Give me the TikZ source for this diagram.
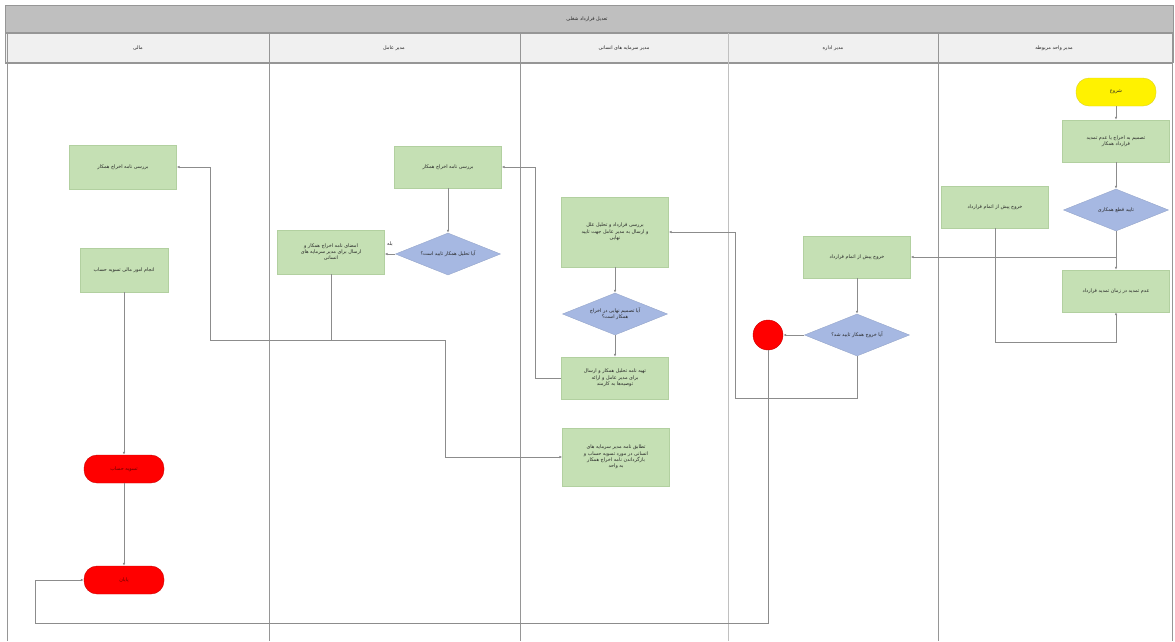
\documentclass[tikz,border=0pt]{standalone}
\usepackage{fontspec}
\usetikzlibrary{shapes.geometric,arrows.meta}
\TeXXeTstate=1
\newfontfamily\arabicfont[Script=Arabic]{DejaVu Sans}
\definecolor{boxgreen}{RGB}{197,224,180}
\definecolor{boxedge}{RGB}{178,208,160}
\definecolor{diablue}{RGB}{166,184,226}
\definecolor{laneline}{RGB}{150,150,150}
\definecolor{linkgray}{RGB}{140,140,140}
\definecolor{titlegray}{RGB}{191,191,191}
\definecolor{headgray}{RGB}{240,240,240}
\tikzset{
  txt/.style={font=\arabicfont\fontsize{4.9}{6.4}\selectfont, align=center, text=black!85},
  proc/.style={txt, draw=boxedge, fill=boxgreen, minimum width=107pt, minimum height=42pt, inner sep=1pt},
  dia/.style={diamond, draw=diablue!90!black, fill=diablue, minimum width=105pt, minimum height=42pt, inner sep=0pt, aspect=2.5},
  term/.style={txt, rounded corners=13pt, minimum width=80pt, minimum height=28pt, inner sep=0pt},
  arr/.style={draw=linkgray, line width=0.6pt, -{Latex[length=3pt,width=2.6pt]}},
  lane/.style={draw=laneline, line width=0.9pt},
  headtxt/.style={font=\arabicfont\fontsize{4.9}{6}\selectfont, text=black!85}
}
\begin{document}
\begin{tikzpicture}[x=1pt, y=-1pt]
\useasboundingbox (0,0) rectangle (1175,641);
\fill[white] (0,0) rectangle (1175,641);

% pool title and lane headers
\fill[titlegray] (5,5) rectangle (1173,32);
\draw[laneline, line width=0.6pt] (5,5) rectangle (1173,32);
\fill[headgray] (5,33) rectangle (1173,62);
\draw[laneline, line width=0.6pt] (5,33) rectangle (1173,62);
\draw[laneline, line width=1.2pt] (5,63) -- (1173,63);
\node[headtxt] (title) at (587,19) {\beginR تعدیل قرارداد شغلی\endR};
\node[headtxt] (h1) at (138,48) {\beginR مالی\endR};
\node[headtxt] (h2) at (394,48) {\beginR مدیر عامل\endR};
\node[headtxt] (h3) at (624,48) {\beginR مدیر سرمایه های انسانی\endR};
\node[headtxt] (h4) at (833,48) {\beginR مدیر اداره\endR};
\node[headtxt] (h5) at (1054,48) {\beginR مدیر واحد مربوطه\endR};

% lane separators
\draw[lane] (7,33) -- (7,641);
\draw[lane] (269,33) -- (269,641);
\draw[lane] (520,33) -- (520,641);
\draw[laneline!60, line width=0.8pt] (728,33) -- (728,641);
\draw[lane] (938,33) -- (938,641);
\draw[lane] (1172,33) -- (1172,641);

% unit manager lane
\node[term, fill=yellow, draw=yellow!85!black] (start) at (1116,92) {\beginR شروع\endR};
\node[proc] (a5) at (1116,141) {\beginR تصمیم به اخراج یا عدم تمدید\endR\\\beginR قرارداد همکار\endR};
\node[dia, label={[txt]center:{\beginR تایید قطع همکاری\endR}}] (d5) at (1116,210) {};
\node[proc] (l5) at (995,207) {\beginR خروج پیش از اتمام قرارداد\endR};
\node[proc] (b5) at (1116,291) {\beginR عدم تمدید در زمان تمدید قرارداد\endR};

% department manager lane
\node[proc] (l4) at (857,257) {\beginR خروج پیش از اتمام قرارداد\endR};
\node[dia, label={[txt]center:{\beginR آیا خروج همکار تایید شد؟\endR}}] (d4) at (857,335) {};
\node[circle, fill=red, draw=red!80!black, minimum size=30pt, inner sep=0pt] (stop) at (768,335) {};

% human capital lane
\node[proc, minimum height=70pt] (c1) at (615,232) {\beginR بررسی قرارداد و تحلیل علل\endR\\\beginR و ارسال به مدیر عامل جهت تایید\endR\\\beginR نهایی\endR};
\node[dia, label={[txt]center:{\beginR آیا تصمیم نهایی در اخراج\endR\\\beginR همکار است؟\endR}}] (d3) at (615,314) {};
\node[proc] (c2) at (615,378) {\beginR تهیه نامه تحلیل همکار و ارسال\endR\\\beginR برای مدیر عامل و ارائه\endR\\\beginR توصیه‌ها به کارمند\endR};
\node[proc, minimum height=58pt] (c3) at (616,457) {\beginR تطابق نامه مدیر سرمایه های\endR\\\beginR انسانی در مورد تسویه حساب و\endR\\\beginR بازگرداندن نامه اخراج همکار\endR\\\beginR به واحد\endR};

% CEO lane
\node[proc] (e1) at (448,167) {\beginR بررسی نامه اخراج همکار\endR};
\node[dia, label={[txt]center:{\beginR آیا تحلیل همکار تایید است؟\endR}}] (d2) at (448,254) {};
\node[proc, minimum height=44pt] (e2) at (331,252) {\beginR امضای نامه اخراج همکار و\endR\\\beginR ارسال برای مدیر سرمایه های\endR\\\beginR انسانی\endR};

% finance lane
\node[proc, minimum height=44pt] (f1) at (123,167) {\beginR بررسی نامه اخراج همکار\endR};
\node[proc, minimum width=88pt, minimum height=44pt] (f2) at (124,270) {\beginR انجام امور مالی تسویه حساب\endR};
\node[term, fill=red, draw=red!80!black, text=red!40!black] (t1) at (124,469) {\beginR تسویه حساب\endR};
\node[term, fill=red, draw=red!80!black, text=red!40!black] (t2) at (124,580) {\beginR پایان\endR};

% routing points
\coordinate (k1) at (1116,342);
\coordinate (k2) at (735,398);
\coordinate (k3) at (35,623);
\coordinate (k4) at (535,167);
\coordinate (k5) at (210,340);
\coordinate (k6) at (445,340);

% connectors
\draw[arr] (start) -- (a5);
\draw[arr] (a5) -- (d5);
\draw[arr] (d5) -- (b5);
\draw[arr] (d5.south) |- (l4.east);
\draw[arr] (l5.south) |- (k1) -- (b5.south);
\draw[arr] (l4) -- (d4);
\draw[arr] (d4.west) -- (stop.east);
\draw[arr] (d4.south) |- (k2) |- (c1.east);
\draw[arr] (stop.south) |- (k3) |- (t2.west);
\draw[arr] (c1) -- (d3);
\draw[arr] (d3) -- (c2);
\draw[arr] (c2.west) -| (k4) -- (e1.east);
\draw[arr] (e1) -- (d2);
\draw[arr] (d2.west) -- node[txt, pos=0.5, above=4pt] (yes) {\beginR بله\endR} (d2.west -| e2.east);
\draw[arr] (e2.south) |- (k5) |- (f1.east);
\draw[arr] (e2.south) |- (k6) |- (c3.west);
\draw[arr] (f2) -- (t1);
\draw[arr] (t1) -- (t2);
\end{tikzpicture}
\end{document}
